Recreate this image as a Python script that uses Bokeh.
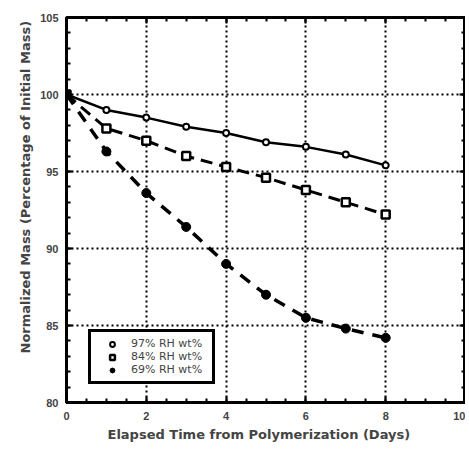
from bokeh.plotting import figure
from bokeh.models import (LinearAxis, SingleIntervalTicker, Legend, LegendItem, Range1d,
                          CustomJSTickFormatter, Title)
from bokeh.embed import file_html
from bokeh.resources import INLINE

days = [0, 1, 2, 3, 4, 5, 6, 7, 8]
rh97 = [100.0, 99.0, 98.5, 97.9, 97.5, 96.9, 96.6, 96.1, 95.4]
rh84 = [100.0, 97.8, 97.0, 96.0, 95.3, 94.6, 93.8, 93.0, 92.2]
rh69 = [100.0, 96.3, 93.6, 91.4, 89.0, 87.0, 85.5, 84.8, 84.2]
labels = ["97% RH wt%", "84% RH wt%", "69% RH wt%"]
x_title = "Elapsed Time from Polymerization (Days)"
y_title = "Normalized Mass (Percentage of Initial Mass)"

FONT = "Liberation Sans"
LABEL_FONT = "DejaVu Sans"

p = figure(width=465, height=444, output_backend="svg", toolbar_location=None,
           x_range=Range1d(0, 10), y_range=Range1d(80, 105),
           min_border_left=66, min_border_right=0, min_border_top=17, min_border_bottom=0)
p.outline_line_color = "black"
p.outline_line_width = 3
p.outline_line_alpha = 1

xt = SingleIntervalTicker(interval=2, num_minor_ticks=4)
yt = SingleIntervalTicker(interval=5, num_minor_ticks=5)

def style(ax, labels_on=True):
    ax.axis_line_width = 3
    ax.axis_line_color = "black"
    ax.major_tick_in = 6
    ax.major_tick_out = 0
    ax.minor_tick_in = 4
    ax.minor_tick_out = 0
    ax.major_tick_line_width = 2
    ax.minor_tick_line_width = 2
    ax.major_label_text_font = FONT
    ax.major_label_text_font_style = "bold"
    ax.major_label_text_font_size = "11px"
    ax.major_label_standoff = 9
    if not labels_on:
        ax.formatter = CustomJSTickFormatter(code="return ''")
        ax.major_label_standoff = 0
        ax.axis_label_standoff = 0

p.xaxis.ticker = xt
p.yaxis.ticker = yt
style(p.xaxis[0])
style(p.yaxis[0])
p.yaxis[0].major_label_standoff = 8

p.add_layout(Title(text=x_title, align="left", offset=41,
                   text_font=LABEL_FONT, text_font_style="bold", text_font_size="13px",
                   standoff=5), "below")
p.add_layout(Title(text=y_title, align="left", offset=49,
                   text_font=LABEL_FONT, text_font_style="bold", text_font_size="13px",
                   standoff=10), "left")

ra = LinearAxis(ticker=yt)
style(ra, False)
p.add_layout(ra, "right")
ta = LinearAxis(ticker=xt)
style(ta, False)
p.add_layout(ta, "above")

p.xgrid.ticker = xt
p.ygrid.ticker = yt
for g in (p.xgrid[0], p.ygrid[0]):
    g.grid_line_color = "black"
    g.grid_line_width = 2
    g.grid_line_dash = "2 3"
    g.grid_line_alpha = 1.0

p.line(days, rh97, line_color="black", line_width=2.5)
p.line(days, rh84, line_color="black", line_width=3, line_dash="12 7")
p.line(days, rh69, line_color="black", line_width=3.5, line_dash="12 9")

s1 = p.scatter(days, rh97, marker="circle", size=6, fill_color="white", line_color="black", line_width=2)
s2 = p.scatter(days, rh84, marker="square", size=8, fill_color="white", line_color="black", line_width=2.5)
s3 = p.scatter(days, rh69, marker="circle", size=9, fill_color="black", line_color="black")

leg = Legend(items=[LegendItem(label=labels[0], renderers=[s1]),
                    LegendItem(label=labels[1], renderers=[s2]),
                    LegendItem(label=labels[2], renderers=[s3])],
             location=(22, 18))
leg.border_line_color = "black"
leg.border_line_width = 3
leg.border_line_alpha = 1
leg.background_fill_color = "white"
leg.background_fill_alpha = 1
leg.label_text_font = "DejaVu Sans"
leg.label_text_font_size = "11px"
leg.label_height = 12
leg.label_width = 76
leg.glyph_height = 12
leg.glyph_width = 32
leg.spacing = 0
leg.padding = 5
leg.margin = 0
leg.label_standoff = 3
p.add_layout(leg, "center")

open("out.html", "w").write(file_html(p, INLINE))
